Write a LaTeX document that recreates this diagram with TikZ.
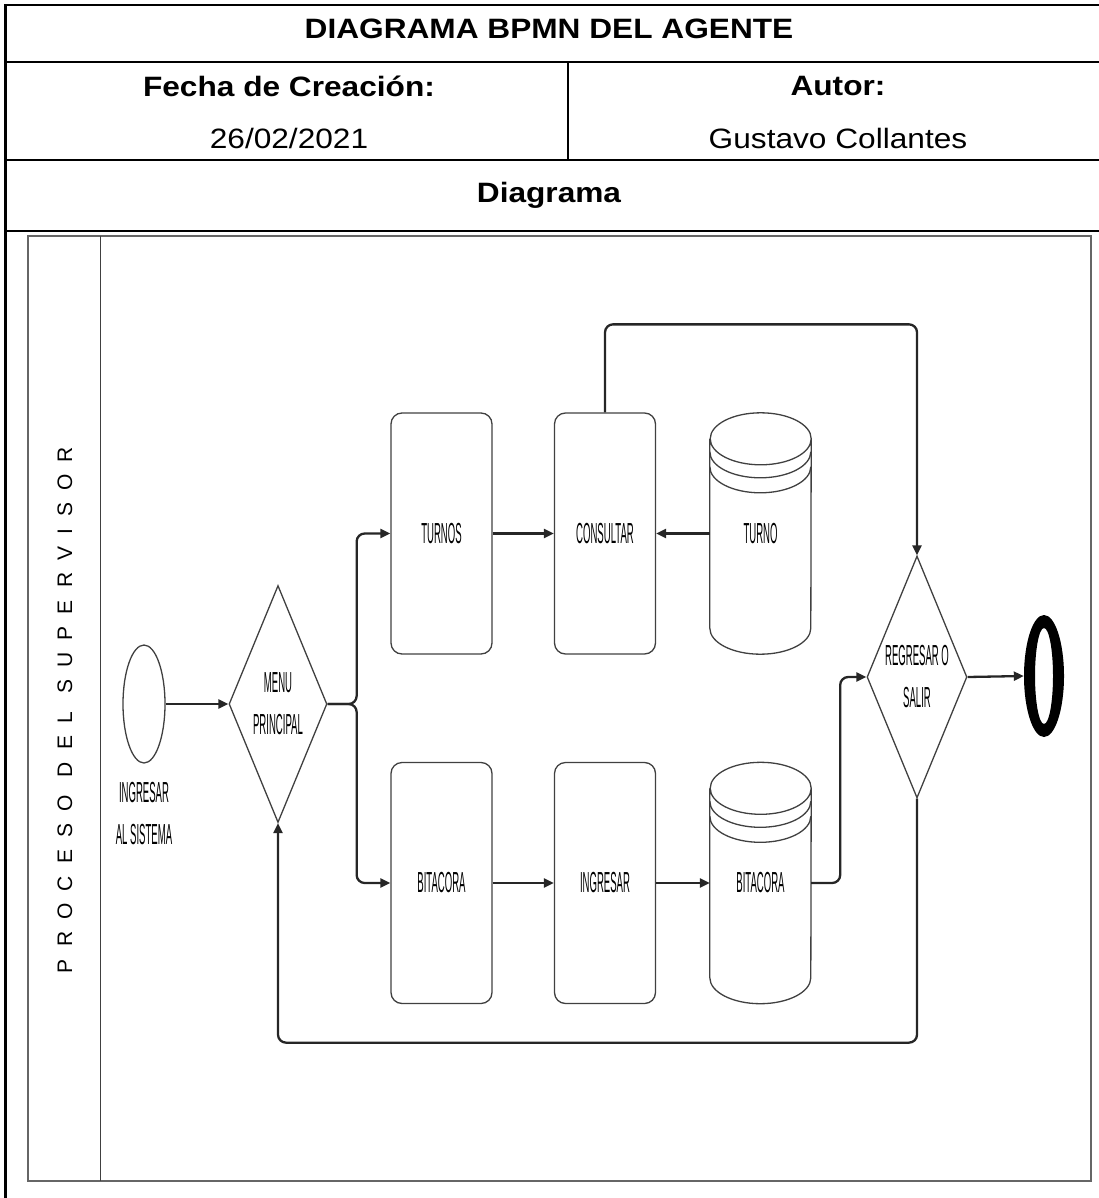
\documentclass[tikz,border=0pt]{standalone}
\usepackage{fontspec}
\usepackage{graphicx}
\setmainfont{Liberation Sans}
\newfontfamily\lanefont[LetterSpace=58]{Liberation Sans}
\usetikzlibrary{shapes.geometric,arrows.meta,calc}
\newcommand\hx[1]{\scalebox{1.13}[1]{#1}}
\newcommand\nx[1]{\scalebox{0.33}[1]{#1}}
\newcommand\dbdraw[1]{%
  \draw[shp] ($(#1.north west)+(0,26)$) -- ($(#1.south west)+(0,-26)$)
    arc[start angle=180,end angle=0,x radius=50.5,y radius=26]
    -- ($(#1.north east)+(0,26)$)
    arc[start angle=0,end angle=-180,x radius=50.5,y radius=26]
    arc[start angle=180,end angle=0,x radius=50.5,y radius=26];
  \draw[shp] ($(#1.north west)+(0,39)$) arc[start angle=180,end angle=0,x radius=50.5,y radius=26];
  \draw[shp] ($(#1.north west)+(0,54)$) arc[start angle=180,end angle=0,x radius=50.5,y radius=26];
}
\begin{document}
\begin{tikzpicture}[x=1pt,y=-1pt,
  tline/.style={line width=2.4pt, black},
  htxt/.style={font=\fontsize{28}{32}\selectfont, inner sep=0pt},
  hbold/.style={htxt, font=\fontsize{28}{32}\selectfont\bfseries},
  shp/.style={draw=black!75, line width=1.3pt},
  lbl/.style={font=\fontsize{29}{42}\selectfont, align=center, inner sep=0pt},
  taskbox/.style={shp, lbl, rectangle, rounded corners=11pt, minimum width=101pt, minimum height=241pt},
  dbbox/.style={lbl, rectangle, minimum width=101pt, minimum height=241pt},
  gate/.style={shp, lbl, diamond, shape aspect=0.41},
  conn/.style={line width=2.3pt, draw=black!85, rounded corners=8pt, -{Triangle[length=10pt,width=9pt]}},
]
\useasboundingbox (0,0) rectangle (1099,1198);
% table
\draw[tline] (5.5,1198) -- (5.5,5) -- (1099,5);
\draw[tline] (5.5,62) -- (1099,62);
\draw[tline] (5.5,160) -- (1099,160);
\draw[tline] (5.5,231) -- (1099,231);
\draw[tline] (568,62) -- (568,160);
\node[hbold] (title) at (549,29) {\hx{DIAGRAMA BPMN DEL AGENTE}};
\node[hbold] (fecha) at (289,86) {\hx{Fecha de Creación:}};
\node[htxt] (date) at (289,138) {\hx{26/02/2021}};
\node[hbold] (autor) at (838,86) {\hx{Autor:}};
\node[htxt] (autorname) at (838,138) {\hx{Gustavo Collantes}};
\node[hbold] (diag) at (549,195) {\hx{Diagrama}};
% pool
\draw[line width=2.2pt, black!60] (28,236) rectangle (1091,1181);
\draw[line width=1pt, black!75] (100,236) -- (100,1181);
\node[rotate=90, font=\lanefont\fontsize{21}{24}\selectfont, inner sep=0pt] (lane) at (65,710) {PROCESO DEL SUPERVISOR};
% nodes
\node[shp, ellipse, minimum width=42pt, minimum height=118pt, inner sep=0pt] (start) at (144,704) {};
\node[lbl] (startlbl) at (144,814) {\nx{INGRESAR}\\\nx{AL SISTEMA}};
\node[gate, minimum width=98pt, minimum height=237pt] (menu) at (278,704) {\nx{MENU}\\\nx{PRINCIPAL}};
\node[taskbox] (turnos) at (441.5,533.5) {\nx{TURNOS}};
\node[taskbox] (consultar) at (605,533.5) {\nx{CONSULTAR}};
\node[dbbox] (turno) at (760.5,533.5) {\nx{TURNO}};
\dbdraw{turno}
\node[taskbox] (bitacora) at (441.5,883) {\nx{BITACORA}};
\node[taskbox] (ingresar) at (605,883) {\nx{INGRESAR}};
\node[dbbox] (bitdb) at (760.5,883) {\nx{BITACORA}};
\dbdraw{bitdb}
\node[gate, minimum width=100pt, minimum height=242pt] (regresar) at (917,677) {\nx{REGRESAR O}\\\nx{SALIR}};
\node[ellipse, minimum width=40pt, minimum height=122pt, inner sep=0pt] (endev) at (1044,676) {};
\fill[black, even odd rule] (endev.center) ellipse[x radius=20, y radius=61]
  (endev.center) ellipse[x radius=9, y radius=48];
% connectors
\draw[conn] (start.east) -- (menu.west);
\draw[conn] (menu.east) -- ++(29,0) |- (turnos.west);
\draw[conn] (menu.east) -- ++(29,0) |- (bitacora.west);
\draw[conn] (turnos.east) -- (consultar.west);
\draw[conn] (turno.west) -- (consultar.east);
\draw[conn] (bitacora.east) -- (ingresar.west);
\draw[conn] (ingresar.east) -- (bitdb.west);
\draw[conn] (consultar.north) -- ++(0,-88) -| (regresar.north);
\draw[conn] (bitdb.east) -- ++(29,0) |- (regresar.west);
\draw[conn] (regresar.east) -- (endev.west);
\draw[conn] (regresar.south) -- ++(0,244) -| (menu.south);
\end{tikzpicture}
\end{document}
